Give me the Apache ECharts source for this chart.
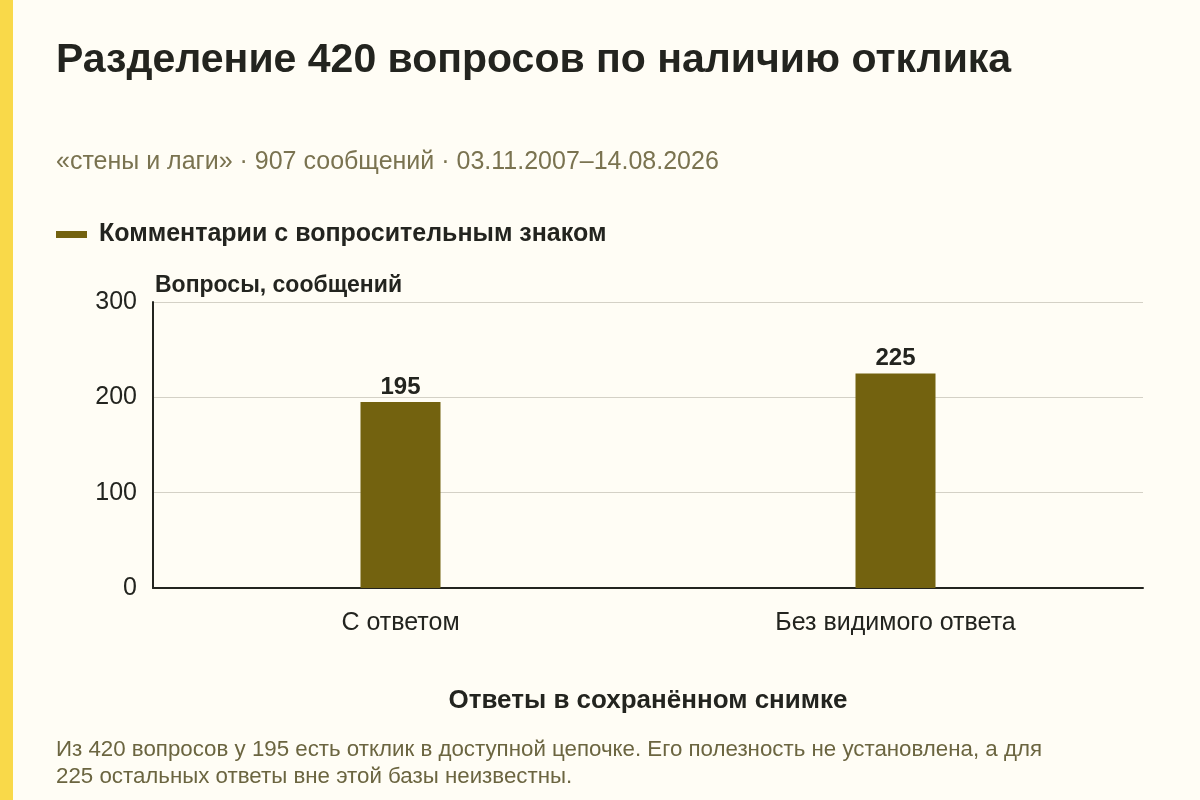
<!DOCTYPE html>
<html><head><meta charset="utf-8">
<script src="https://cdn.jsdelivr.net/npm/echarts@6/dist/echarts.min.js"></script>
<style>html,body{margin:0;padding:0;background:#fffdf5;}#c{width:1200px;height:800px;}</style>
</head><body><div id="c"></div>
<script>
const categories = ["С ответом", "Без видимого ответа"];
const values = [195, 225];
const yTicks = [0, 100, 200, 300];
const seriesName = "Комментарии с вопросительным знаком";

const F = '"Liberation Sans", Arial, sans-serif';
const chart = echarts.init(document.getElementById('c'));
chart.setOption({
  backgroundColor: '#fffdf5',
  animation: false,
  graphic: [
    {type:'rect', shape:{x:0,y:0,width:13,height:800}, style:{fill:'#f9d949'}},
    {type:'text', x:56, y:61, style:{text:'Разделение 420 вопросов по наличию отклика', font:'bold 41px '+F, fill:'#23241f', verticalAlign:'middle'}},
    {type:'text', x:56, y:162, style:{text:'«стены и лаги» · 907 сообщений · 03.11.2007–14.08.2026', font:'25px '+F, fill:'#7a7350', verticalAlign:'middle'}},
    {type:'text', x:56, y:736, style:{text:'Из 420 вопросов у 195 есть отклик в доступной цепочке. Его полезность не установлена, а для\n225 остальных ответы вне этой базы неизвестны.', font:'22.3px '+F, fill:'#6b6540', lineHeight:27, verticalAlign:'top'}}
  ],
  legend: {
    left: 56, top: 222, padding: 0, itemWidth: 31, itemHeight: 7, itemGap: 12,
    icon: 'rect',
    textStyle: {fontFamily: F, fontSize: 25, fontWeight: 'bold', color: '#23241f', padding:[0,0,6,7]},
    data: [seriesName]
  },
  grid: {left: 153, right: 57, top: 302, bottom: 212},
  xAxis: {
    type: 'category', data: categories,
    name: 'Ответы в сохранённом снимке', nameLocation: 'middle', nameGap: 100,
    nameTextStyle: {fontFamily: F, fontSize: 26, fontWeight: 'bold', color: '#23241f'},
    axisLine: {lineStyle: {color: '#23241f', width: 2}},
    axisTick: {alignWithLabel: true, length: 7, lineStyle: {color: '#23241f', width: 1}},
    axisLabel: {fontFamily: F, fontSize: 25, color: '#23241f', margin: 23}
  },
  yAxis: {
    type: 'value', min: yTicks[0], max: yTicks[yTicks.length-1], interval: 100,
    name: 'Вопросы, сообщений', nameLocation: 'end', nameGap: 5,
    nameTextStyle: {fontFamily: F, fontSize: 23, fontWeight: 'bold', color: '#23241f', align: 'left', padding:[0,0,0,2]},
    axisLine: {show: true, lineStyle: {color: '#23241f', width: 2}},
    axisTick: {show: false},
    axisLabel: {fontFamily: F, fontSize: 25, color: '#23241f', margin: 16},
    splitLine: {lineStyle: {color: '#d4d1c6', width: 1}}
  },
  series: [{
    name: seriesName, type: 'bar', data: values, barWidth: 80,
    itemStyle: {color: '#73620f'},
    label: {show: true, position: 'top', distance: 3, fontFamily: F, fontSize: 24, fontWeight: 'bold', color: '#23241f'}
  }]
});
</script></body></html>
